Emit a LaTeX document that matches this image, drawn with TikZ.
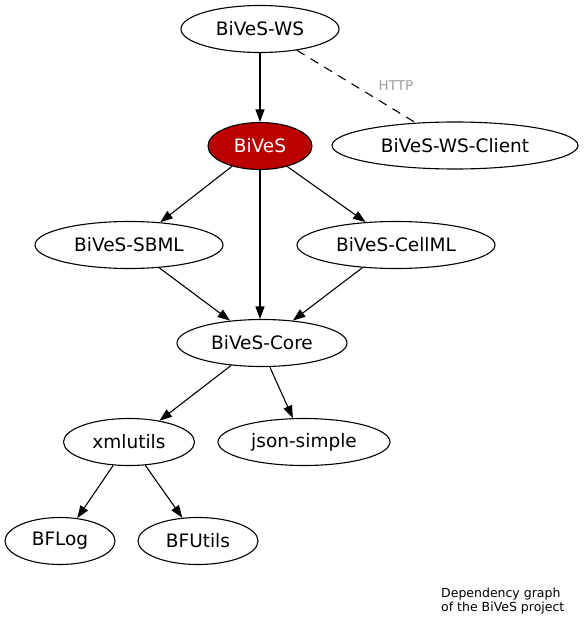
\documentclass[tikz,border=0pt]{standalone}
\usepackage{fontspec}
\setmainfont{DejaVu Sans}
\usetikzlibrary{arrows.meta,shapes.geometric}
\definecolor{bivesred}{RGB}{187,0,0}
\definecolor{labelgray}{RGB}{160,160,160}
\tikzset{
  gnode/.style={ellipse, draw, line width=1.1pt, inner sep=0pt, minimum height=47pt, font=\fontsize{18.5}{22}\selectfont},
  dep/.style={-{Triangle[length=12.5pt,width=9pt]}, line width=1.1pt},
  httplink/.style={line width=1.1pt, dash pattern=on 9pt off 7pt},
  captext/.style={font=\fontsize{12.5}{14}\selectfont, anchor=base west, inner sep=0pt},
}
\begin{document}
\begin{tikzpicture}[x=1pt,y=-1pt]
\useasboundingbox (0,0) rectangle (584,631);
\node[gnode, minimum width=158pt] (ws) at (260,29) {BiVeS-WS};
\node[gnode, minimum width=104pt, fill=bivesred, text=white] (bives) at (260,146) {BiVeS};
\node[gnode, minimum width=246pt] (client) at (455,145.5) {BiVeS-WS-Client};
\node[gnode, minimum width=188pt] (sbml) at (129,245) {BiVeS-SBML};
\node[gnode, minimum width=198pt] (cellml) at (396,245) {BiVeS-CellML};
\node[gnode, minimum width=170pt] (core) at (262,343) {BiVeS-Core};
\node[gnode, minimum width=131pt] (xml) at (129,442) {xmlutils};
\node[gnode, minimum width=172pt] (json) at (304,442) {json-simple};
\node[gnode, minimum width=110pt] (bflog) at (60,541) {BFLog};
\node[gnode, minimum width=120pt] (bfutils) at (198,541) {BFUtils};
\node[font=\fontsize{13.5}{16}\selectfont, text=labelgray, anchor=base] (http) at (396,90.7) {HTTP};
\node[captext] (cap1) at (441,597.5) {Dependency graph};
\node[captext] (cap2) at (441,611.5) {of the BiVeS project};
\draw[dep] (ws.south) -- (bives.north);
\draw[httplink] (ws.330.4) -- (client.150.3);
\draw[dep] (bives.216.9) -- (sbml.36.6);
\draw[dep] (bives.323.1) -- (cellml.143.4);
\draw[dep] (bives.south) -- (bives.south |- core.north);
\draw[dep] (sbml.323.4) -- (core.145.5);
\draw[dep] (cellml.214.9) -- (core.36.3);
\draw[dep] (core.216.9) -- (xml.35.4);
\draw[dep] (core.288.4) -- (json.115.6);
\draw[dep] (xml.236.3) -- (bflog.53.5);
\draw[dep] (xml.305.3) -- (bfutils.124.8);
\end{tikzpicture}
\end{document}
